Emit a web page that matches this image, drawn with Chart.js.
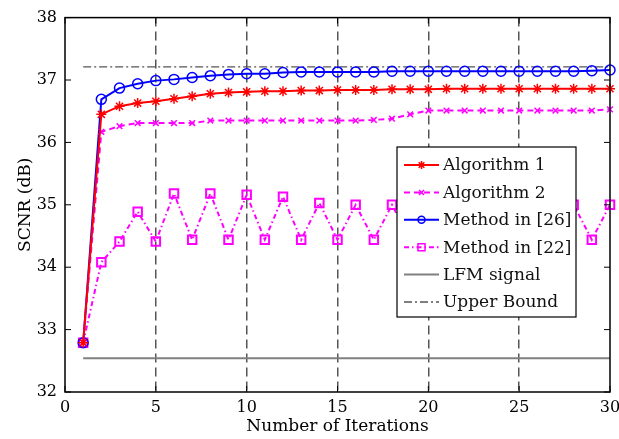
<!DOCTYPE html>
<html>
<head>
<meta charset="utf-8">
<script src="https://cdn.jsdelivr.net/npm/chart.js@4.4.0/dist/chart.umd.min.js"></script>
<style>
  html, body { margin: 0; padding: 0; background: #fff; }
  #wrap { width: 619px; height: 439px; }
</style>
</head>
<body>
<div id="wrap"><canvas id="scnr-chart"></canvas></div>
<script>
// iterations on the x axis
const iterations = [1, 2, 3, 4, 5, 6, 7, 8, 9, 10, 11, 12, 13, 14, 15,
  16, 17, 18, 19, 20, 21, 22, 23, 24, 25, 26, 27, 28, 29, 30];

// SCNR (dB)
const algorithm1 = [32.79, 36.45, 36.58, 36.63, 36.66, 36.70, 36.74, 36.78, 36.80, 36.81,
  36.82, 36.82, 36.83, 36.83, 36.84, 36.84, 36.84, 36.85, 36.85, 36.85,
  36.86, 36.86, 36.86, 36.86, 36.86, 36.86, 36.86, 36.86, 36.86, 36.86];
const algorithm2 = [32.79, 36.17, 36.26, 36.31, 36.31, 36.31, 36.31, 36.35, 36.35, 36.35,
  36.35, 36.35, 36.35, 36.35, 36.35, 36.35, 36.36, 36.38, 36.45, 36.51,
  36.51, 36.51, 36.51, 36.51, 36.51, 36.51, 36.51, 36.51, 36.51, 36.53];
const method26 = [32.79, 36.69, 36.87, 36.94, 36.99, 37.01, 37.04, 37.07, 37.09, 37.10,
  37.10, 37.12, 37.13, 37.13, 37.13, 37.13, 37.13, 37.14, 37.14, 37.14,
  37.14, 37.14, 37.14, 37.14, 37.14, 37.14, 37.14, 37.14, 37.15, 37.16];
const method22 = [32.79, 34.08, 34.41, 34.89, 34.41, 35.18, 34.44, 35.18, 34.44, 35.16,
  34.44, 35.13, 34.44, 35.03, 34.44, 35.00, 34.44, 35.00, 34.44, 35.00,
  34.44, 35.00, 34.44, 35.00, 34.44, 35.00, 34.44, 35.00, 34.44, 35.00];
const lfmLevel = 32.54;
const upperBound = 37.21;

const xTicks = [0, 5, 10, 15, 20, 25, 30];
const yTicks = [32, 33, 34, 35, 36, 37, 38];

const serif = "'DejaVu Serif', 'Liberation Serif', serif";

function toPoints(values) {
  return values.map((v, i) => ({ x: iterations[i], y: v }));
}
function flatLine(level) {
  const first = iterations[0], last = iterations[iterations.length - 1];
  return [{ x: first, y: level }, { x: last, y: level }];
}

// axis box with inward tick marks (matlab style)
const frameTicks = {
  id: 'frameTicks',
  afterDatasetsDraw(chart) {
    const { ctx, chartArea: a, scales: { x, y } } = chart;
    ctx.save();
    ctx.strokeStyle = '#000';
    ctx.lineWidth = 1.5;
    ctx.setLineDash([]);
    ctx.strokeRect(a.left, a.top, a.right - a.left, a.bottom - a.top);
    ctx.lineWidth = 1;
    ctx.beginPath();
    x.ticks.forEach(t => {
      const px = x.getPixelForValue(t.value);
      ctx.moveTo(px, a.bottom); ctx.lineTo(px, a.bottom - 6);
      ctx.moveTo(px, a.top); ctx.lineTo(px, a.top + 6);
    });
    y.ticks.forEach(t => {
      const py = y.getPixelForValue(t.value);
      ctx.moveTo(a.left, py); ctx.lineTo(a.left + 6, py);
      ctx.moveTo(a.right, py); ctx.lineTo(a.right - 6, py);
    });
    ctx.stroke();
    ctx.restore();
  }
};

// boxed legend inside the plot
const boxLegend = {
  id: 'boxLegend',
  afterDatasetsDraw(chart, args, opts) {
    const { ctx } = chart;
    const sets = chart.data.datasets;
    ctx.save();
    ctx.fillStyle = '#fff';
    ctx.fillRect(opts.left, opts.top, opts.width, opts.height);
    ctx.strokeStyle = '#000';
    ctx.lineWidth = 1.2;
    ctx.strokeRect(opts.left, opts.top, opts.width, opts.height);
    sets.forEach((ds, i) => {
      const cy = opts.top + opts.firstRow + i * opts.rowHeight;
      const x0 = opts.left + 7, x1 = opts.left + 42;
      ctx.save();
      ctx.strokeStyle = ds.borderColor;
      ctx.lineWidth = ds.legendLineWidth || ds.borderWidth;
      ctx.setLineDash(ds.legendDash || ds.borderDash || []);
      ctx.beginPath();
      ctx.moveTo(x0, cy); ctx.lineTo(x1, cy);
      ctx.stroke();
      ctx.restore();
      if (ds.pointRadius > 0) {
        ctx.save();
        ctx.strokeStyle = ds.pointBorderColor || ds.borderColor;
        ctx.fillStyle = 'rgba(0,0,0,0)';
        ctx.setLineDash([]);
        ctx.lineWidth = 1.5;
        Chart.helpers.drawPoint(ctx, {
          pointStyle: ds.pointStyle, radius: ds.legendRadius, rotation: 0, borderWidth: 1.5
        }, (x0 + x1) / 2, cy);
        ctx.restore();
      }
      ctx.fillStyle = '#111';
      ctx.font = opts.font;
      ctx.textAlign = 'left';
      ctx.textBaseline = 'middle';
      ctx.fillText(ds.label, opts.left + 46, cy + 1);
    });
    ctx.restore();
  }
};

new Chart(document.getElementById('scnr-chart'), {
  type: 'line',
  data: {
    datasets: [
      {
        label: 'Algorithm 1',
        data: toPoints(algorithm1),
        borderColor: '#ff0000',
        borderWidth: 2,
        pointStyle: 'star',
        pointRadius: 5,
        legendRadius: 4,
        pointBorderWidth: 1.5,
        pointBorderColor: '#ff0000',
        pointBackgroundColor: '#ff0000'
      },
      {
        label: 'Algorithm 2',
        data: toPoints(algorithm2),
        borderColor: '#ff00ff',
        borderWidth: 2,
        borderDash: [6, 4],
        pointStyle: 'crossRot',
        pointRadius: 4,
        legendRadius: 3.5,
        pointBorderWidth: 1.5,
        pointBorderColor: '#ff00ff'
      },
      {
        label: 'Method in [26]',
        data: toPoints(method26),
        borderColor: '#0000ff',
        borderWidth: 2,
        pointStyle: 'circle',
        pointRadius: 5,
        legendRadius: 3.5,
        pointBorderWidth: 1.5,
        pointBorderColor: '#0000ff',
        pointBackgroundColor: 'rgba(0,0,0,0)'
      },
      {
        label: 'Method in [22]',
        data: toPoints(method22),
        borderColor: '#ff00ff',
        borderWidth: 2,
        borderDash: [5, 3, 1.5, 3],
        pointStyle: 'rect',
        pointRadius: 6,
        legendRadius: 5,
        pointBorderWidth: 2,
        pointBorderColor: '#ff00ff',
        pointBackgroundColor: 'rgba(0,0,0,0)'
      },
      {
        label: 'LFM signal',
        data: flatLine(lfmLevel),
        borderColor: '#808080',
        borderWidth: 2,
        pointRadius: 0
      },
      {
        label: 'Upper Bound',
        data: flatLine(upperBound),
        borderColor: '#555555',
        borderWidth: 1.3,
        borderDash: [8, 3, 2, 3],
        pointRadius: 0
      }
    ]
  },
  options: {
    responsive: true,
    maintainAspectRatio: false,
    animation: false,
    clip: false,
    layout: { padding: { top: 16, right: 0, left: 0, bottom: 0 } },
    elements: { line: { tension: 0, fill: false } },
    scales: {
      x: {
        type: 'linear',
        min: 0, max: 30,
        afterBuildTicks: s => { s.ticks = xTicks.map(v => ({ value: v })); },
        afterFit: s => { s.height = 47; s.paddingLeft = 0; s.paddingRight = 9; },
        ticks: { color: '#000', padding: 6, font: { family: serif, size: 16 } },
        grid: {
          drawTicks: false,
          lineWidth: 1.5,
          color: c => (c.tick && (c.tick.value === 0 || c.tick.value === 30)) ? 'rgba(0,0,0,0)' : '#555'
        },
        border: { display: false, dash: [9, 5] },
        title: {
          display: true, text: 'Number of Iterations', color: '#000',
          font: { family: serif, size: 17 }, padding: { top: 0, bottom: 2 }
        }
      },
      y: {
        min: 32, max: 38,
        afterBuildTicks: s => { s.ticks = yTicks.map(v => ({ value: v })); },
        afterFit: s => { s.width = 65; },
        ticks: { color: '#000', padding: 8, font: { family: serif, size: 16 } },
        grid: { display: false, drawTicks: false },
        border: { display: false },
        title: {
          display: true, text: 'SCNR (dB)', color: '#000',
          font: { family: serif, size: 17 }, padding: { top: 15, bottom: 0 }
        }
      }
    },
    plugins: {
      legend: { display: false },
      tooltip: { enabled: false },
      boxLegend: {
        left: 397, top: 147, width: 179, height: 170,
        firstRow: 18, rowHeight: 27.4,
        font: "17px 'DejaVu Serif', 'Liberation Serif', serif"
      }
    }
  },
  plugins: [frameTicks, boxLegend]
});
</script>
</body>
</html>
